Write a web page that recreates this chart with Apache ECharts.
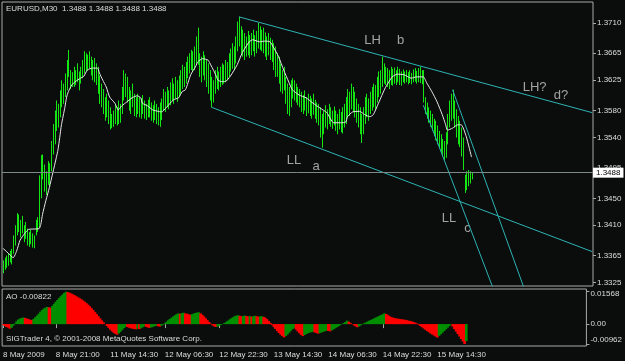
<!DOCTYPE html>
<html>
<head>
<meta charset="utf-8">
<script src="https://cdn.jsdelivr.net/npm/echarts@6/dist/echarts.min.js"></script>
<style>
  html, body { margin: 0; padding: 0; background: #0b0d0d; }
  #chart { width: 625px; height: 361px; }
</style>
</head>
<body>
<div id="chart"></div>
<script>
// M30 slots on the time axis (the right part is empty chart shift)
const slotCount = 343;
const timeTickIndex = [0, 31, 63, 95, 127, 159, 191, 223, 255];
const timeTickLabel = ['8 May 2009', '8 May 21:00', '11 May 14:30', '12 May 06:30', '12 May 22:30',
  '13 May 14:30', '14 May 06:30', '14 May 22:30', '15 May 14:30'];
const priceTicks = [1.3710, 1.3665, 1.3625, 1.3580, 1.3540, 1.3495, 1.3450, 1.3410, 1.3365, 1.3325];
const aoTicks = [0.01568, 0, -0.00962];
const aoTickText = ['{t|0.01568}', '0.00', '{b|-0.00962}'];
const lastPrice = 1.3488;

// bar highs / lows, one per M30 bar
const barHigh = [
  1.3358,1.3362,1.3365,1.3368,1.3372,1.3375,1.3395,1.3410,1.3428,1.3426,
  1.3418,1.3424,1.3410,1.3415,1.3405,1.3400,1.3403,1.3398,1.3395,1.3418,
  1.3422,1.3484,1.3514,1.3515,1.3500,1.3490,1.3505,1.3502,1.3535,1.3560,
  1.3580,1.3595,1.3590,1.3610,1.3625,1.3620,1.3635,1.3655,1.3670,1.3640,
  1.3637,1.3645,1.3640,1.3650,1.3638,1.3645,1.3655,1.3668,1.3665,1.3663,
  1.3668,1.3660,1.3655,1.3658,1.3650,1.3645,1.3632,1.3620,1.3612,1.3600,
  1.3605,1.3595,1.3585,1.3575,1.3580,1.3590,1.3585,1.3595,1.3590,1.3615,
  1.3640,1.3635,1.3630,1.3615,1.3610,1.3620,1.3605,1.3600,1.3605,1.3600,
  1.3598,1.3603,1.3595,1.3590,1.3596,1.3600,1.3592,1.3588,1.3595,1.3590,
  1.3585,1.3592,1.3598,1.3612,1.3608,1.3615,1.3610,1.3622,1.3628,1.3620,
  1.3630,1.3625,1.3632,1.3640,1.3648,1.3645,1.3652,1.3660,1.3665,1.3670,
  1.3668,1.3675,1.3690,1.3703,1.3665,1.3660,1.3668,1.3662,1.3655,1.3650,
  1.3640,1.3630,1.3625,1.3640,1.3645,1.3638,1.3645,1.3650,1.3648,1.3655,
  1.3652,1.3665,1.3672,1.3680,1.3675,1.3690,1.3712,1.3719,1.3705,1.3700,
  1.3695,1.3690,1.3698,1.3692,1.3695,1.3700,1.3692,1.3698,1.3710,1.3705,
  1.3700,1.3703,1.3696,1.3690,1.3695,1.3688,1.3685,1.3680,1.3675,1.3665,
  1.3660,1.3650,1.3640,1.3645,1.3630,1.3620,1.3615,1.3625,1.3628,1.3625,
  1.3620,1.3615,1.3612,1.3608,1.3603,1.3610,1.3600,1.3605,1.3602,1.3598,
  1.3605,1.3596,1.3592,1.3590,1.3585,1.3575,1.3580,1.3588,1.3582,1.3590,
  1.3585,1.3580,1.3586,1.3580,1.3575,1.3582,1.3578,1.3585,1.3590,1.3600,
  1.3612,1.3608,1.3620,1.3615,1.3608,1.3598,1.3590,1.3585,1.3575,1.3585,
  1.3600,1.3605,1.3598,1.3608,1.3615,1.3620,1.3618,1.3630,1.3638,1.3640,
  1.3660,1.3650,1.3645,1.3643,1.3640,1.3645,1.3642,1.3644,1.3640,1.3645,
  1.3642,1.3638,1.3641,1.3638,1.3640,1.3637,1.3640,1.3636,1.3641,1.3643,
  1.3639,1.3643,1.3645,1.3640,1.3640,1.3600,1.3592,1.3585,1.3580,1.3575,
  1.3568,1.3565,1.3558,1.3550,1.3545,1.3538,1.3535,1.3548,1.3575,1.3595,
  1.3605,1.3611,1.3595,1.3582,1.3572,1.3565,1.3555,1.3540,1.3485,1.3490,
  1.3492,1.3490,1.3489
];
const barLow = [
  1.3339,1.3344,1.3347,1.3350,1.3355,1.3352,1.3368,1.3380,1.3395,1.3400,
  1.3392,1.3398,1.3385,1.3390,1.3380,1.3378,1.3382,1.3377,1.3376,1.3395,
  1.3400,1.3407,1.3450,1.3478,1.3460,1.3455,1.3470,1.3468,1.3490,1.3515,
  1.3530,1.3550,1.3555,1.3570,1.3585,1.3590,1.3600,1.3610,1.3630,1.3612,
  1.3615,1.3615,1.3618,1.3622,1.3610,1.3620,1.3628,1.3635,1.3638,1.3640,
  1.3642,1.3632,1.3625,1.3622,1.3618,1.3605,1.3590,1.3585,1.3575,1.3565,
  1.3570,1.3560,1.3552,1.3554,1.3556,1.3560,1.3558,1.3560,1.3562,1.3575,
  1.3595,1.3600,1.3592,1.3580,1.3575,1.3585,1.3572,1.3570,1.3575,1.3570,
  1.3568,1.3575,1.3568,1.3566,1.3570,1.3570,1.3565,1.3562,1.3566,1.3560,
  1.3558,1.3556,1.3566,1.3580,1.3578,1.3585,1.3582,1.3588,1.3595,1.3590,
  1.3598,1.3593,1.3600,1.3605,1.3612,1.3615,1.3620,1.3628,1.3635,1.3640,
  1.3638,1.3640,1.3650,1.3648,1.3630,1.3622,1.3632,1.3625,1.3615,1.3605,
  1.3595,1.3585,1.3592,1.3605,1.3612,1.3610,1.3615,1.3618,1.3620,1.3622,
  1.3625,1.3630,1.3638,1.3642,1.3640,1.3650,1.3668,1.3675,1.3665,1.3660,
  1.3655,1.3660,1.3662,1.3658,1.3662,1.3668,1.3660,1.3665,1.3672,1.3670,
  1.3668,1.3665,1.3660,1.3655,1.3662,1.3655,1.3652,1.3640,1.3630,1.3630,
  1.3620,1.3608,1.3605,1.3610,1.3590,1.3575,1.3572,1.3585,1.3598,1.3595,
  1.3592,1.3588,1.3585,1.3578,1.3575,1.3580,1.3572,1.3576,1.3572,1.3568,
  1.3574,1.3568,1.3562,1.3558,1.3540,1.3525,1.3545,1.3555,1.3552,1.3560,
  1.3556,1.3553,1.3558,1.3550,1.3545,1.3552,1.3548,1.3546,1.3555,1.3560,
  1.3570,1.3572,1.3582,1.3578,1.3570,1.3562,1.3555,1.3545,1.3532,1.3545,
  1.3560,1.3570,1.3565,1.3575,1.3580,1.3585,1.3582,1.3592,1.3600,1.3605,
  1.3615,1.3620,1.3618,1.3615,1.3612,1.3618,1.3617,1.3620,1.3618,1.3622,
  1.3618,1.3617,1.3622,1.3620,1.3622,1.3619,1.3621,1.3619,1.3622,1.3623,
  1.3620,1.3622,1.3621,1.3619,1.3592,1.3575,1.3568,1.3562,1.3556,1.3550,
  1.3542,1.3536,1.3530,1.3524,1.3518,1.3512,1.3507,1.3510,1.3530,1.3555,
  1.3565,1.3568,1.3555,1.3540,1.3530,1.3526,1.3512,1.3492,1.3458,1.3462,
  1.3468,1.3472,1.3478
];

// moving average: [bar, price]
const maPoints = [
  [0,1.3376],[3,1.3369],[6,1.3362],[8,1.3372],[10,1.3388],[13,1.3399],[15,1.3404],[21,1.3405],
  [22,1.3411],[23,1.3426],[25,1.3447],[27,1.3466],[29,1.3488],[31,1.3510],[32,1.3522],[33,1.3540],
  [34,1.3559],[36,1.3585],[37,1.3600],[38,1.3608],[40,1.3618],[42,1.3623],[45,1.3628],[47,1.3631],
  [49,1.3640],[52,1.3643],[55,1.3643],[56,1.3636],[58,1.3625],[60,1.3615],[62,1.3600],[65,1.3591],
  [67,1.3581],[69,1.3587],[72,1.3593],[75,1.3599],[78,1.3602],[80,1.3599],[81,1.3591],[84,1.3587],
  [87,1.3581],[90,1.3579],[92,1.3578],[95,1.3585],[99,1.3596],[102,1.3599],[104,1.3608],[106,1.3611],
  [109,1.3633],[112,1.3646],[113,1.3652],[116,1.3657],[119,1.3655],[120,1.3651],[123,1.3636],[125,1.3625],
  [127,1.3623],[129,1.3623],[132,1.3631],[136,1.3648],[139,1.3666],[143,1.3682],[145,1.3685],[149,1.3682],
  [152,1.3683],[155,1.3682],[157,1.3674],[160,1.3660],[163,1.3640],[166,1.3622],[168,1.3611],[172,1.3603],
  [176,1.3599],[180,1.3591],[184,1.3584],[188,1.3577],[192,1.3562],[196,1.3562],[199,1.3563],[200,1.3571],
  [203,1.3578],[207,1.3579],[210,1.3574],[213,1.3571],[215,1.3574],[218,1.3591],[222,1.3614],[226,1.3630],
  [229,1.3634],[233,1.3633],[237,1.3628],[240,1.3630],[244,1.3630],[246,1.3621],[249,1.3608],[252,1.3593],
  [255,1.3574],[257,1.3559],[258,1.3551],[261,1.3554],[264,1.3559],[266,1.3559],[269,1.3541],[272,1.3511]
];

// Awesome Oscillator, one per bar
const aoValues = [
  -0.0004,-0.0009,-0.0014,-0.0017,-0.0022,-0.0018,-0.0008,0.0003,0.0014,0.0022,
  0.0027,0.0030,0.0032,0.0030,0.0027,0.0024,0.0021,0.0019,0.0025,0.0033,
  0.0041,0.0050,0.0060,0.0068,0.0075,0.0080,0.0083,0.0081,0.0079,0.0088,
  0.0098,0.0108,0.0117,0.0126,0.0135,0.0143,0.0151,0.01568,0.0155,0.0152,
  0.0148,0.0144,0.0140,0.0135,0.0130,0.0125,0.0120,0.0114,0.0108,0.0101,
  0.0094,0.0086,0.0077,0.0068,0.0058,0.0048,0.0038,0.0028,0.0018,0.0009,
  0.0000,-0.0009,-0.0018,-0.0027,-0.0035,-0.0042,-0.0047,-0.0051,-0.0045,-0.0037,
  -0.0028,-0.0019,-0.0012,-0.0014,-0.0017,-0.0020,-0.0022,-0.0024,-0.0025,-0.0022,
  -0.0024,-0.0020,-0.0015,-0.0011,-0.0013,-0.0016,-0.0018,-0.0016,-0.0013,-0.0010,
  -0.0008,-0.0010,-0.0012,-0.0008,-0.0003,0.0004,0.0011,0.0018,0.0025,0.0031,
  0.0037,0.0043,0.0048,0.0052,0.0050,0.0053,0.0055,0.0052,0.0050,0.0047,
  0.0045,0.0048,0.0051,0.0054,0.0056,0.0057,0.0052,0.0045,0.0037,0.0028,
  0.0019,0.0010,0.0002,-0.0006,-0.0011,-0.0014,-0.0012,-0.0008,-0.0004,0.0000,
  0.0005,0.0010,0.0016,0.0022,0.0028,0.0033,0.0038,0.0041,0.0043,0.0040,
  0.0038,0.0039,0.0041,0.0039,0.0037,0.0039,0.0036,0.0038,0.0040,0.0038,
  0.0036,0.0037,0.0038,0.0035,0.0031,0.0024,0.0015,0.0006,-0.0004,-0.0014,
  -0.0024,-0.0034,-0.0043,-0.0051,-0.0058,-0.0064,-0.0058,-0.0050,-0.0041,-0.0032,
  -0.0024,-0.0018,-0.0026,-0.0035,-0.0044,-0.0052,-0.0058,-0.0053,-0.0048,-0.0044,
  -0.0041,-0.0039,-0.0037,-0.0040,-0.0043,-0.0046,-0.0043,-0.0040,-0.0037,-0.0034,
  -0.0031,-0.0033,-0.0035,-0.0030,-0.0025,-0.0020,-0.0015,-0.0010,-0.0005,0.0000,
  0.0005,0.0010,0.0017,0.0012,0.0006,0.0000,-0.0006,-0.0011,-0.0015,-0.0011,
  -0.0006,-0.0001,0.0004,0.0008,0.0012,0.0016,0.0020,0.0024,0.0028,0.0032,
  0.0036,0.0040,0.0044,0.0048,0.0052,0.0049,0.0043,0.0038,0.0034,0.0031,
  0.0029,0.0027,0.0026,0.0025,0.0023,0.0022,0.0021,0.0019,0.0017,0.0015,
  0.0013,0.0010,0.0007,0.0003,-0.0003,-0.0009,-0.0015,-0.0021,-0.0027,-0.0033,
  -0.0039,-0.0045,-0.0050,-0.0055,-0.0060,-0.0065,-0.0057,-0.0049,-0.0041,-0.0033,
  -0.0025,-0.0017,-0.0009,-0.0002,-0.0012,-0.0024,-0.0036,-0.0048,-0.0060,-0.0072,
  -0.0084,-0.00962,-0.00822
];

// trend lines drawn on the chart: two anchor points [bar, price] each
const trendLines = [
  [[137, 1.3719], [342, 1.3577]],
  [[121, 1.3585], [342, 1.3371]],
  [[244, 1.3588], [290, 1.3280]],
  [[261, 1.3611], [305, 1.3299]]
];

// text objects: [bar, price, text]
const notes = [
  [210, 1.3683, 'LH'], [229, 1.3683, 'b'], [302, 1.3614, 'LH?'], [320, 1.3602, 'd?'],
  [165, 1.3506, 'LL'], [180, 1.3497, 'a'], [255, 1.3420, 'LL'], [268, 1.3405, 'c']
];

const font = 'Liberation Sans';
const textColor = '#dcdcdc';
const frameColor = '#a9a9a9';
const slots = Array.from({ length: slotCount }, (_, i) => String(i));
const tickSet = new Set(timeTickIndex);

const chart = echarts.init(document.getElementById('chart'), null, { renderer: 'canvas' });

const aoData = aoValues.map((v, i) => ({
  value: v,
  itemStyle: { color: i > 0 && v > aoValues[i - 1] ? '#008f00' : '#ff0000' }
}));

chart.setOption({
  animation: false,
  backgroundColor: '#0b0d0d',
  grid: [
    { left: 2, right: 32, top: 2, height: 284, show: true, borderColor: frameColor, borderWidth: 1, backgroundColor: 'transparent' },
    { left: 2, right: 32, top: 289, height: 57, show: true, borderColor: frameColor, borderWidth: 1, backgroundColor: 'transparent' }
  ],
  xAxis: [
    {
      type: 'category', gridIndex: 0, data: slots, boundaryGap: true,
      axisLine: { show: false }, axisTick: { show: false }, axisLabel: { show: false }, splitLine: { show: false }
    },
    {
      type: 'category', gridIndex: 1, data: slots, boundaryGap: true,
      axisLine: { show: false },
      axisTick: { show: true, alignWithLabel: true, length: 4, interval: (i) => tickSet.has(i), lineStyle: { color: frameColor } },
      axisLabel: {
        show: true, interval: (i) => tickSet.has(i), align: 'left', margin: 5,
        color: textColor, fontSize: 8, fontFamily: font,
        formatter: (v, i) => timeTickLabel[timeTickIndex.indexOf(i)] || ''
      },
      splitLine: { show: false }
    }
  ],
  yAxis: [
    {
      type: 'value', gridIndex: 0, position: 'right', min: 1.3320, max: 1.3741,
      splitLine: { show: false }, axisLine: { show: false },
      axisTick: { show: true, length: 3, customValues: priceTicks, lineStyle: { color: frameColor } },
      axisLabel: {
        customValues: priceTicks, margin: 4, color: textColor, fontSize: 8, fontFamily: font,
        formatter: (v) => v.toFixed(4)
      }
    },
    {
      type: 'value', gridIndex: 1, position: 'right', min: -0.01059, max: 0.01699,
      splitLine: { show: false }, axisLine: { show: false },
      axisTick: { show: true, length: 3, customValues: aoTicks, lineStyle: { color: frameColor } },
      axisLabel: {
        customValues: aoTicks, margin: 4, color: textColor, fontSize: 8, fontFamily: font,
        formatter: (v) => {
          const k = aoTicks.findIndex(t => Math.abs(t - v) < 1e-7);
          return k >= 0 ? aoTickText[k] : '';
        },
        rich: { t: { padding: [5, 0, 0, 0] }, b: { padding: [0, 0, 8, 0] } }
      }
    }
  ],
  graphic: [
    { type: 'text', left: 6, top: 5, style: { text: 'EURUSD,M30  1.3488 1.3488 1.3488 1.3488', fill: textColor, fontSize: 8, fontFamily: font } },
    { type: 'text', left: 6, top: 293, style: { text: 'AO -0.00822', fill: textColor, fontSize: 8, fontFamily: font } },
    { type: 'text', left: 6, top: 335, style: { text: 'SIGTrader 4, \u00a9 2001-2008 MetaQuotes Software Corp.', fill: textColor, fontSize: 8, fontFamily: font } }
  ],
  series: [
    {
      // price bars (high-low)
      type: 'custom', xAxisIndex: 0, yAxisIndex: 0, silent: true,
      data: barHigh.map((h, i) => [i, barLow[i], h]),
      encode: { x: 0, y: [1, 2] },
      renderItem: function (params, api) {
        const lo = api.coord([api.value(0), api.value(1)]);
        const hi = api.coord([api.value(0), api.value(2)]);
        const x = Math.round(lo[0]) + 0.5;
        return { type: 'line', shape: { x1: x, y1: lo[1], x2: x, y2: hi[1] }, style: { stroke: '#14e614', lineWidth: 1 } };
      }
    },
    {
      // moving average + last price line
      type: 'line', xAxisIndex: 0, yAxisIndex: 0, data: maPoints, showSymbol: false, silent: true, smooth: 0.2,
      lineStyle: { color: '#e6e6e6', width: 1 },
      markLine: {
        silent: true, symbol: ['none', 'none'], animation: false, precision: 4,
        data: [{ yAxis: lastPrice }],
        lineStyle: { color: '#7d8a8a', width: 1, type: 'solid' },
        label: {
          show: true, position: 'end', distance: 0, formatter: lastPrice.toFixed(4),
          backgroundColor: '#ffffff', color: '#000000', fontSize: 8, fontFamily: font, padding: [1, 3, 1, 3]
        }
      }
    },
    ...trendLines.map(pts => ({
      type: 'line', xAxisIndex: 0, yAxisIndex: 0, data: pts, showSymbol: false, silent: true, clip: true,
      lineStyle: { color: '#2db3b3', width: 1 }
    })),
    {
      type: 'scatter', xAxisIndex: 0, yAxisIndex: 0, silent: true, symbolSize: 1,
      itemStyle: { color: 'rgba(0,0,0,0)' },
      data: notes.map(n => ({ value: [n[0], n[1]], name: n[2] })),
      label: {
        show: true, position: [0, 0], align: 'left', verticalAlign: 'middle',
        formatter: (p) => p.name, color: '#c8c8c8', fontSize: 13, fontFamily: font
      }
    },
    {
      // AO histogram
      type: 'bar', xAxisIndex: 1, yAxisIndex: 1, data: aoData, barWidth: 2.6, barGap: '-100%', silent: true
    }
  ]
});
</script>
</body>
</html>
